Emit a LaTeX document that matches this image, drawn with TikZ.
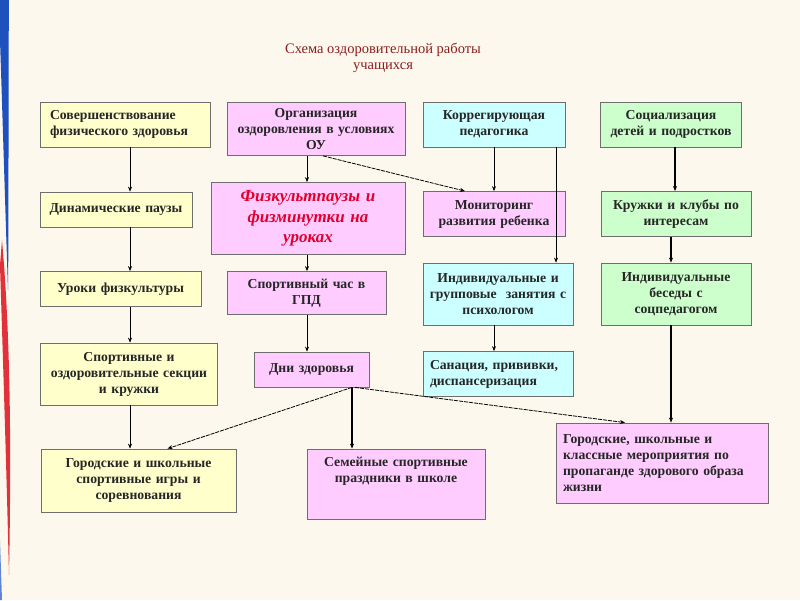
\documentclass[tikz,border=0pt]{standalone}
\usepackage{fontspec}
\setmainfont{Liberation Serif}
\usetikzlibrary{arrows.meta,calc}
\definecolor{fon}{RGB}{252,248,238}
\definecolor{zhelt}{RGB}{255,255,204}
\definecolor{roz}{RGB}{255,204,255}
\definecolor{gol}{RGB}{204,255,255}
\definecolor{zel}{RGB}{204,255,204}
\definecolor{ramka}{RGB}{110,110,110}
\definecolor{titul}{RGB}{140,30,30}
\definecolor{krasn}{RGB}{225,0,45}
\definecolor{sin}{RGB}{30,80,190}
\definecolor{alyj}{RGB}{225,50,60}
\begin{document}
\begin{tikzpicture}[x=1pt,y=-1pt,
    box/.style={draw=ramka,line width=0.8pt,inner sep=0pt,
      font=\bfseries\fontsize{13.7}{16}\selectfont,text=black!85},
    ybox/.style={box,fill=zhelt},
    pbox/.style={box,fill=roz},
    cbox/.style={box,fill=gol},
    gbox/.style={box,fill=zel},
    arr/.style={-{Stealth[length=5pt,width=4pt]},line width=0.6pt},
    tarr/.style={arr,line width=1.3pt},
    darr/.style={arr,line width=0.8pt,dash pattern=on 4pt off 1pt}]
\fill[fon] (0,0) rectangle (800,600);
\useasboundingbox (0,0) rectangle (800,600);
% left ribbons
\fill[sin] (0,0) -- (9,0) .. controls (8,100) and (9,200) .. (8,290)
  .. controls (5,200) and (2,100) .. (0,40) -- cycle;
\fill[alyj] (2,240) .. controls (9,320) and (12,420) .. (9,575)
  .. controls (6,450) and (2,330) .. (0,265) -- cycle;
\fill[sin!70] (0,540) -- (2,600) -- (0,600) -- cycle;
% title
\node[font=\fontsize{14.5}{16}\selectfont,text=titul,align=center] (title) at (383,58)
  {Схема оздоровительной работы\\учащихся};
% column 1
\node[ybox,minimum width=170pt,minimum height=45pt,text width=150pt,align=left] (sov) at (125,124.5)
  {Совершенствование\\физического здоровья};
\node[ybox,minimum width=152pt,minimum height=35pt,text width=146pt,align=center] (din) at (116,209.5)
  {Динамические паузы};
\node[ybox,minimum width=161pt,minimum height=35pt,text width=155pt,align=center] (uroki) at (120.5,289)
  {Уроки физкультуры};
\node[ybox,minimum width=177pt,minimum height=62pt,text width=171pt,align=center] (sekcii) at (129,374)
  {Спортивные и\\оздоровительные секции\\и кружки};
\node[ybox,minimum width=195pt,minimum height=63pt,text width=185pt,align=center] (igry) at (138.5,480.5)
  {Городские и школьные\\спортивные игры и\\соревнования};
% column 2
\node[pbox,minimum width=178pt,minimum height=53pt,text width=172pt,align=center] (org) at (316,129)
  {Организация\\оздоровления в условиях\\ОУ};
\node[pbox,minimum width=194pt,minimum height=72pt,text width=184pt,align=center,
  font=\bfseries\itshape\fontsize{17}{20.5}\selectfont,text=krasn] (fizk) at (308,218.5)
  {Физкультпаузы и\\физминутки на\\уроках};
\node[pbox,minimum width=159pt,minimum height=43pt,text width=149pt,align=center] (chas) at (306.5,293)
  {Спортивный час в\\ГПД};
\node[pbox,minimum width=115pt,minimum height=35pt,text width=109pt,align=center] (dni) at (311.5,369.5)
  {Дни здоровья};
\node[pbox,minimum width=178pt,minimum height=70pt,text width=170pt,align=center] (semya) at (396,484)
  {Семейные спортивные\\праздники в школе\\[12pt]\mbox{}};
% column 3
\node[cbox,minimum width=142pt,minimum height=45pt,text width=136pt,align=center] (korr) at (494,124.5)
  {Коррегирующая\\педагогика};
\node[pbox,minimum width=142pt,minimum height=45pt,text width=140pt,align=center] (mon) at (494,214)
  {Мониторинг\\развития ребенка};
\node[cbox,minimum width=150pt,minimum height=62pt,text width=146pt,align=center] (indiv) at (498,294)
  {Индивидуальные и\\групповые\ \ занятия с\\психологом};
\node[cbox,minimum width=150pt,minimum height=45pt,text width=136pt,align=left] (sanac) at (498,374)
  {Санация, прививки,\\диспансеризация};
% column 4
\node[gbox,minimum width=141pt,minimum height=45pt,text width=137pt,align=center] (soc) at (671,124.5)
  {Социализация\\детей и подростков};
\node[gbox,minimum width=150pt,minimum height=45pt,text width=146pt,align=center] (kruzh) at (676,214)
  {Кружки и клубы по\\интересам};
\node[gbox,minimum width=150pt,minimum height=62pt,text width=146pt,align=center] (beseda) at (676,294)
  {Индивидуальные\\беседы с\\соцпедагогом};
\node[pbox,minimum width=212pt,minimum height=80pt,text width=198pt,align=left] (meropr) at (662,463)
  {Городские, школьные и\\классные мероприятия по\\пропаганде здорового образа\\жизни};
% arrow columns
\coordinate (c1) at (130,0);
\coordinate (c2) at (307,0);
\coordinate (c3) at (494,0);
\coordinate (c3b) at (556,0);
\coordinate (c4) at (675,0);
\coordinate (c4b) at (671,0);
\coordinate (c5) at (352,0);
\draw[arr] (c1 |- sov.south) -- (c1 |- din.north);
\draw[arr] (c1 |- din.south) -- (c1 |- uroki.north);
\draw[arr] (c1 |- uroki.south) -- (c1 |- sekcii.north);
\draw[arr] (c1 |- sekcii.south) -- (c1 |- igry.north);
\draw[arr] (c2 |- org.south) -- (c2 |- fizk.north);
\draw[arr] (c2 |- fizk.south) -- (c2 |- chas.north);
\draw[arr] (c2 |- chas.south) -- (c2 |- dni.north);
\draw[arr] (c3 |- korr.south) -- (c3 |- mon.north);
\draw[arr] (c3b |- korr.south) -- (c3b |- indiv.north);
\draw[arr] (c3 |- indiv.south) -- (c3 |- sanac.north);
\draw[tarr] (c4 |- soc.south) -- (c4 |- kruzh.north);
\draw[tarr] (c4b |- kruzh.south) -- (c4b |- beseda.north);
\draw[tarr] (c4b |- beseda.south) -- (c4b |- meropr.north);
\draw[tarr] (c5 |- dni.south) -- (c5 |- semya.north);
\draw[darr] ($(org.south)+(7,0)$) -- ($(mon.north)+(-29,0)$);
\draw[darr] (c5 |- dni.south) -- ($(igry.north)+(29,0)$);
\draw[darr] ($(c5 |- dni.south)+(3,0)$) -- ($(meropr.north)+(-37,0)$);
\end{tikzpicture}
\end{document}
